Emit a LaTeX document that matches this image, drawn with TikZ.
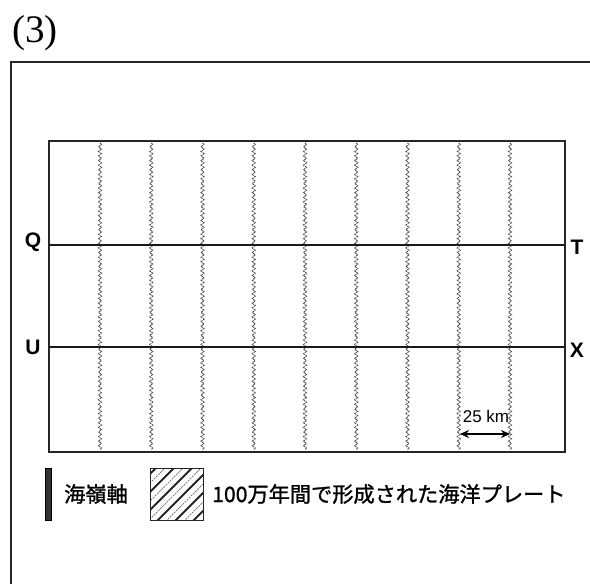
\documentclass[tikz,border=0pt]{standalone}
\usepackage{fontspec}
\setmainfont{Liberation Serif}
\newfontfamily\lsans{Liberation Sans}
\newfontfamily\jp[FakeBold=1.2]{Noto Sans CJK JP}
\usetikzlibrary{decorations.pathmorphing,arrows.meta}
\tikzset{
  frame/.style={line width=1.2pt, black!85},
  plateline/.style={line width=1.4pt, black!90},
  ridge/.style={line width=0.8pt, black!70, dash pattern=on 2.5pt off 0.8pt, decorate,
    decoration={snake, amplitude=1.6pt, segment length=4.6pt}},
  lbl/.style={font=\lsans\bfseries\fontsize{21}{23}\selectfont, inner sep=0pt},
  jptext/.style={font=\jp\fontsize{21.2}{24}\selectfont, anchor=west, inner sep=0pt},
}
\begin{document}
\begin{tikzpicture}[x=1pt,y=-1pt]
\useasboundingbox (0,0) rectangle (590,584);
% outer frame (partly cut)
\draw[frame] (11,584) -- (11,62) -- (590,62);
\node[font=\fontsize{39}{41}\selectfont, inner sep=0pt] (title) at (35,33) {(3)};
% inner box
\coordinate (tl) at (49,141);
\coordinate (br) at (565,452);
\draw[frame] (tl) rectangle (br);
% ridges
\foreach \i in {0,...,8}{
  \coordinate (r\i top) at ({100+51.25*\i},143);
  \coordinate (r\i bot) at ({100+51.25*\i},450);
  \draw[ridge] (r\i top) -- (r\i bot);
}
% Q-T and U-X lines
\coordinate (qa) at (49,245);
\coordinate (ta) at (565,245);
\coordinate (ua) at (49,347);
\coordinate (xa) at (565,347);
\draw[plateline] (qa) -- (ta);
\draw[plateline] (ua) -- (xa);
\node[lbl] (Q) at (33,242) {Q};
\node[lbl] (T) at (577,247) {T};
\node[lbl] (U) at (33,347) {U};
\node[lbl] (X) at (577,350) {X};
% scale
\coordinate (s1) at (460,434);
\coordinate (s2) at (510,434);
\draw[line width=1.5pt, {Stealth[length=9pt,width=8pt]}-{Stealth[length=9pt,width=8pt]}] (s1) -- (s2);
\node[font=\lsans\fontsize{17}{19}\selectfont, inner sep=0pt] (km) at (486,416) {25 km};
% legend
\node[fill=black!80, draw=black, minimum width=6pt, minimum height=52pt, inner sep=0pt] (bar) at (48,494) {};
\node[jptext] (lg1) at (64,494) {海嶺軸};
\begin{scope}
  \clip (150,468) rectangle (203,520);
  \foreach \k in {-4,...,6}{
    \draw[line width=1.8pt, black!85] ({150+\k*18-20},530) -- ({150+\k*18+52},458);
    \draw[line width=0.7pt, black!60, dash pattern=on 2pt off 1pt] ({150+\k*18-11},530) -- ({150+\k*18+61},458);
  }
\end{scope}
\node[draw=black!85, line width=1pt, minimum width=53pt, minimum height=52pt, inner sep=0pt] (hatch) at (176.5,494) {};
\node[jptext] (lg2) at (212,494) {100万年間で形成された海洋プレート};
\end{tikzpicture}
\end{document}
